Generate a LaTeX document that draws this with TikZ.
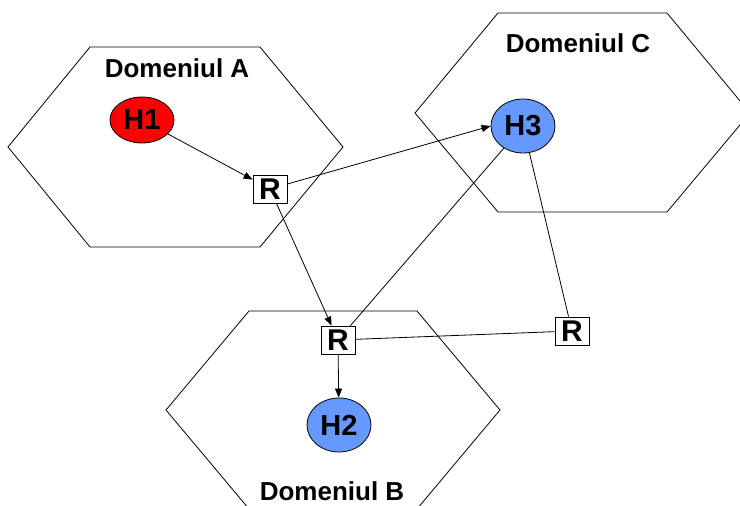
\documentclass[tikz,border=0pt]{standalone}
\usepackage{fontspec}
\setmainfont{Liberation Sans}
\usepackage{xcolor}
\usetikzlibrary{arrows.meta, shapes.geometric}
\definecolor{hostred}{HTML}{FF0000}
\definecolor{hostblue}{HTML}{6699FF}
\tikzset{
  hexdomain/.style={draw=black, line width=0.8pt},
  domlabel/.style={font=\bfseries\fontsize{26}{28}\selectfont, text=black},
  host/.style={ellipse, draw=black, line width=0.8pt, minimum width=64pt, minimum height=54pt, inner sep=0pt, font=\bfseries\fontsize{29}{31}\selectfont},
  redhost/.style={host, fill=hostred, minimum height=46pt},
  bluehost/.style={host, fill=hostblue},
  router/.style={rectangle, draw=black, fill=white, line width=0.8pt, minimum width=34pt, minimum height=28pt, inner sep=0pt, font=\bfseries\fontsize{30}{32}\selectfont},
  link/.style={line width=0.8pt, draw=black},
  arrow/.style={link, -{Triangle[length=9pt,width=7pt]}}
}

\begin{document}
\begin{tikzpicture}[x=1pt,y=1pt]
\useasboundingbox (0,0) rectangle (740,506);
\clip (0,0) rectangle (740,506);

% domains
\draw[hexdomain] (90,459) -- (260,459) -- (343,359) -- (260,259) -- (90,259) -- (8,359) -- cycle;
\draw[hexdomain] (498,493) -- (667,493) -- (750,393) -- (667,294) -- (498,294) -- (415,393) -- cycle;
\draw[hexdomain] (249,195) -- (417,195) -- (500,96) -- (417,-3) -- (249,-3) -- (166,96) -- cycle;

\node[domlabel] (labA) at (177,438) {Domeniul A};
\node[domlabel] (labC) at (578,463) {Domeniul C};
\node[domlabel] (labB) at (332,15) {Domeniul B};

% hosts and routers
\node[redhost] (H1) at (142,386) {H1};
\node[bluehost] (H3) at (523,380) {H3};
\node[bluehost] (H2) at (339,81) {H2};

\node[router] (R1) at (270,317) {R};
\node[router] (R2) at (338,166) {R};
\node[router] (R3) at (572,175) {R};

% links
\draw[arrow] (H1) -- (R1);
\draw[arrow] (R1) -- (H3.west);
\draw[arrow] (R1) -- (R2);
\draw[link] (H3) -- (R2);
\draw[link] (H3) -- (R3);
\draw[link] (R3) -- (R2);
\draw[arrow] (R2) -- (H2);

\end{tikzpicture}
\end{document}
